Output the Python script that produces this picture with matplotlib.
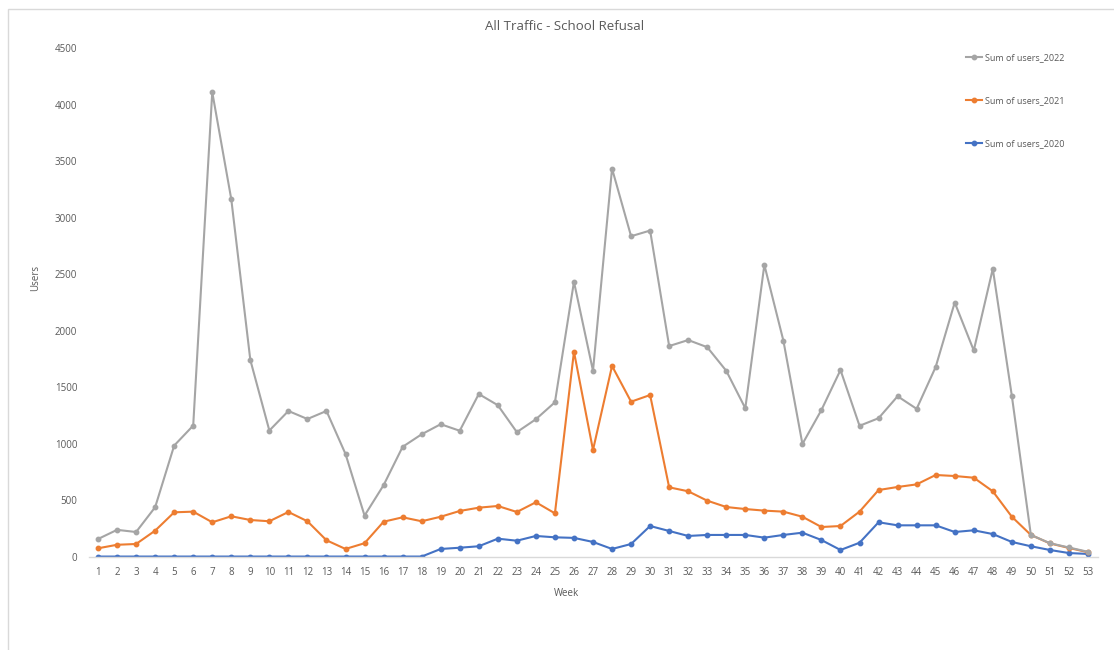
import matplotlib
matplotlib.use("Agg")
import matplotlib.pyplot as plt
from matplotlib.patches import Rectangle

plt.rcParams['font.family'] = ['Open Sans', 'DejaVu Sans']

weeks = list(range(1, 54))

users_2022 = [159, 240, 221, 440, 985, 1162, 4110, 3163, 1742, 1118, 1291, 1220, 1291, 911, 366,
              635, 974, 1085, 1174, 1116, 1441, 1342, 1104, 1218, 1368, 2433, 1646, 3434, 2836, 2886,
              1865, 1918, 1855, 1646, 1315, 2583, 1913, 999, 1300, 1653, 1160, 1227, 1421, 1310, 1680,
              2250, 1826, 2548, 1425, 195, 122, 84, 46]

users_2021 = [77, 108, 115, 233, 395, 401, 307, 360, 327, 316, 398, 316, 148, 71, 122,
              312, 351, 316, 356, 407, 436, 451, 398, 484, 386, 1815, 946, 1689, 1373, 1432,
              616, 581, 498, 442, 424, 410, 401, 356, 265, 274, 401, 592, 619, 642, 725,
              716, 701, 581, 356, 195, 120, 80, 42]

users_2020 = [4, 4, 4, 4, 4, 4, 4, 4, 4, 4, 4, 4, 4, 4, 4,
              4, 4, 4, 71, 82, 95, 162, 144, 186, 174, 169, 133, 71, 115, 274,
              230, 186, 195, 195, 195, 171, 195, 215, 150, 62, 126, 307, 280, 280, 280,
              221, 236, 203, 133, 95, 62, 35, 27]

series = [
    ("Sum of users_2020", users_2020, "#4472C4"),
    ("Sum of users_2021", users_2021, "#ED7D31"),
    ("Sum of users_2022", users_2022, "#A5A5A5"),
]

W, H = 1114, 650
fig = plt.figure(figsize=(W / 100, H / 100), dpi=100)
fig.patch.set_facecolor("white")

# chart-area border (open towards right and bottom edges)
fig.add_artist(Rectangle((8 / W, -0.01), 1.02, (H - 9) / H + 0.01, transform=fig.transFigure,
                         fill=False, edgecolor="#D9D9D9", linewidth=1.0))

left, right = 88.5 / W, 1097.5 / W
bottom, top = 1 - 557 / H, 1 - 48 / H
ax = fig.add_axes([left, bottom, right - left, top - bottom])

handles = []
for label, vals, color in series:
    ln, = ax.plot(weeks, vals, color=color, linewidth=1.5, marker="o", markersize=3.2,
                  label=label, solid_joinstyle="round")
    handles.append(ln)

ax.set_xlim(0.5, 53.5)
ax.set_ylim(0, 4500)
ax.set_xticks(weeks)
ax.set_xticklabels([str(w) for w in weeks])
ax.set_yticks(range(0, 4501, 500))

for s in ("top", "right", "left"):
    ax.spines[s].set_visible(False)
ax.spines["bottom"].set_color("#D9D9D9")
ax.spines["bottom"].set_linewidth(1.0)
ax.tick_params(axis="both", length=0, labelsize=7, labelcolor="#595959")
ax.tick_params(axis="x", pad=7)
ax.tick_params(axis="y", pad=8)

fig.text(565 / W, 1 - 26 / H, "All Traffic - School Refusal", ha="center", va="center",
         fontsize=9.5, color="#595959")
fig.text(566 / W, 1 - 594 / H, "Week", ha="center", va="center", fontsize=7, color="#595959")
fig.text(36 / W, 1 - 278 / H, "Users", ha="center", va="center", fontsize=7, color="#595959",
         rotation=90)

fig.legend(handles[::-1], [h.get_label() for h in handles[::-1]],
           loc="upper left", bbox_to_anchor=(966 / W, 1 - 53 / H),
           frameon=False, fontsize=6.5, labelcolor="#595959",
           handlelength=1.8, handletextpad=0.25, labelspacing=3.75, borderaxespad=0,
           borderpad=0)

fig.savefig("out.png", dpi=100)
